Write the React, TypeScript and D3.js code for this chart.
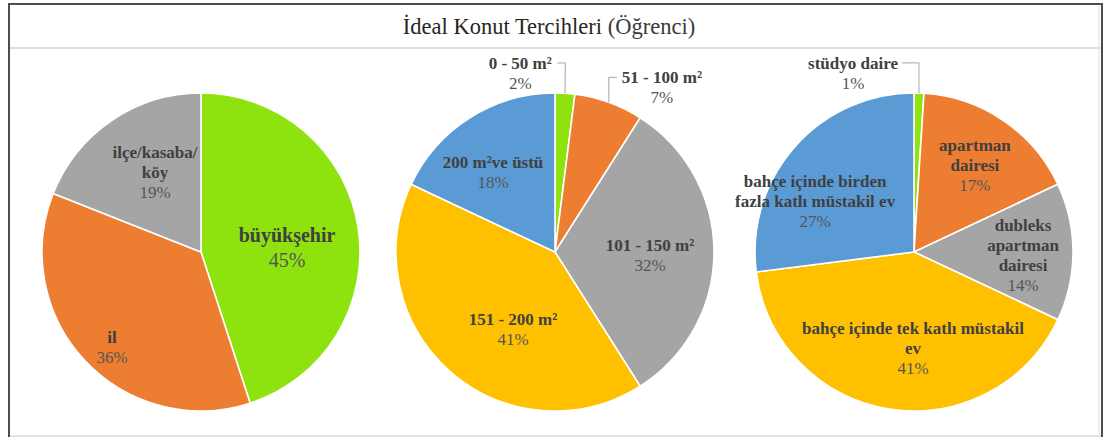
import React from 'react';
import * as d3 from 'd3';

// chart data
const chartTitle = 'İdeal Konut Tercihleri';
const chartSubtitle = '(Öğrenci)';

const cityCategories = ['büyükşehir', 'il', 'ilçe/kasaba/\nköy'];
const cityValues = [45, 36, 19];

const sizeCategories = ['0 - 50 m²', '51 - 100 m²', '101 - 150 m²', '151 - 200 m²', '200 m²ve üstü'];
const sizeValues = [2, 7, 32, 41, 18];

const typeCategories = [
  'stüdyo daire',
  'apartman\ndairesi',
  'dubleks\napartman\ndairesi',
  'bahçe içinde tek katlı müstakil\nev',
  'bahçe içinde birden\nfazla katlı müstakil ev',
];
const typeValues = [1, 17, 14, 41, 27];

const sliceColors = ['#8EE30F', '#ED7D31', '#A5A5A5', '#FFC000', '#5B9BD5'];

// label placement: radius factor, angle shift (deg), font size, line height, outside (leader line)
type LabelLayout = { k: number; shift: number; fs?: number; lh?: number; outside?: boolean };

const cityLayout: LabelLayout[] = [
  { k: 0.542, shift: 6, fs: 20, lh: 25 },
  { k: 0.819, shift: -3.7 },
  { k: 0.58, shift: 4.3 },
];
const sizeLayout: LabelLayout[] = [
  { k: 1.147, shift: -14.6, outside: true },
  { k: 1.235, shift: 13.2, outside: true },
  { k: 0.598, shift: 1.8 },
  { k: 0.552, shift: -12.8 },
  { k: 0.634, shift: -5.5 },
];
const typeLayout: LabelLayout[] = [
  { k: 1.19, shift: -20.6, outside: true },
  { k: 0.668, shift: 0.8 },
  { k: 0.686, shift: 1.6 },
  { k: 0.604, shift: -8.4 },
  { k: 0.7, shift: -14.1 },
];

const W = 1105;
const H = 437;
const R = 159;
const CY = 252;
const FONT = '"Liberation Serif"';
const TEXT = '#404040';

const toRad = (d: number) => (d * Math.PI) / 180;

function PieChart({ cx, categories, values, layout }: {
  cx: number; categories: string[]; values: number[]; layout: LabelLayout[];
}) {
  const pie = d3.pie<number>().sort(null).value(d => d);
  const arcs = pie(values);
  const arc = d3.arc<d3.PieArcDatum<number>>().innerRadius(0).outerRadius(R);

  return (
    <g transform={`translate(${cx},${CY})`}>
      {arcs.map((a, i) => (
        <path key={'s' + i} d={arc(a) || ''} fill={sliceColors[i]} stroke="#fff" strokeWidth={1.6} />
      ))}
      {arcs.map((a, i) => {
        const lay = layout[i];
        const fs = lay.fs ?? 17;
        const lh = lay.lh ?? 20;
        const mid = (a.startAngle + a.endAngle) / 2;
        const ang = mid + toRad(lay.shift);
        const lx = lay.k * R * Math.sin(ang);
        const ly = -lay.k * R * Math.cos(ang);
        const lines = categories[i].split('\n');
        const all = [...lines, `${values[i]}%`];
        const top = ly - (all.length * lh) / 2;
        let leader = null;
        if (lay.outside) {
          const ex = R * Math.sin(mid);
          const ey = -R * Math.cos(mid);
          const nameY = top + lh / 2;
          const halfW = lines[0].length * 3.9;
          const tx = lx < ex ? lx + halfW + 2 : lx - halfW - 2;
          const elbowX = lx < ex ? Math.max(ex, tx + 8) : Math.min(ex, tx - 4);
          leader = (
            <polyline
              points={`${ex},${ey} ${elbowX},${nameY} ${tx},${nameY}`}
              fill="none" stroke="#A6A6A6" strokeWidth={1}
            />
          );
        }
        return (
          <g key={'l' + i}>
            {leader}
            <text textAnchor="middle" style={{ fontFamily: FONT }} fill={TEXT}>
              {all.map((t, j) => (
                <tspan
                  key={j}
                  x={lx}
                  y={top + lh * (j + 0.5) + fs * 0.33}
                  fontSize={fs}
                  fontWeight={j < lines.length ? 'bold' : 'normal'}
                  fill={j < lines.length ? TEXT : '#555555'}
                >{t}</tspan>
              ))}
            </text>
          </g>
        );
      })}
    </g>
  );
}

export default function App() {
  return (
    <svg width={W} height={H} style={{ position: 'absolute', left: 0, top: 0, background: '#fff', fontFamily: FONT }}>
      <rect x={0} y={0} width={W} height={H} fill="#fff" />
      {/* frame */}
      <line x1={9} y1={436} x2={1102} y2={436} stroke="#C8C8C8" strokeWidth={1} />
      <line x1={9} y1={48} x2={1102} y2={48} stroke="#BFBFBF" strokeWidth={1.2} />
      <line x1={1099} y1={5} x2={1099} y2={436} stroke="#E0E0E0" strokeWidth={1} />
      <path d="M9,437 V4 H1102 V437" fill="none" stroke="#4D4D4D" strokeWidth={2} />

      <text x={549} y={34} textAnchor="middle" style={{ fontFamily: FONT }} fontSize={22.5} fill="#262626">
        {chartTitle} <tspan fill="#3a3a3a">{chartSubtitle}</tspan>
      </text>

      <PieChart cx={201} categories={cityCategories} values={cityValues} layout={cityLayout} />
      <PieChart cx={555} categories={sizeCategories} values={sizeValues} layout={sizeLayout} />
      <PieChart cx={914} categories={typeCategories} values={typeValues} layout={typeLayout} />
    </svg>
  );
}
